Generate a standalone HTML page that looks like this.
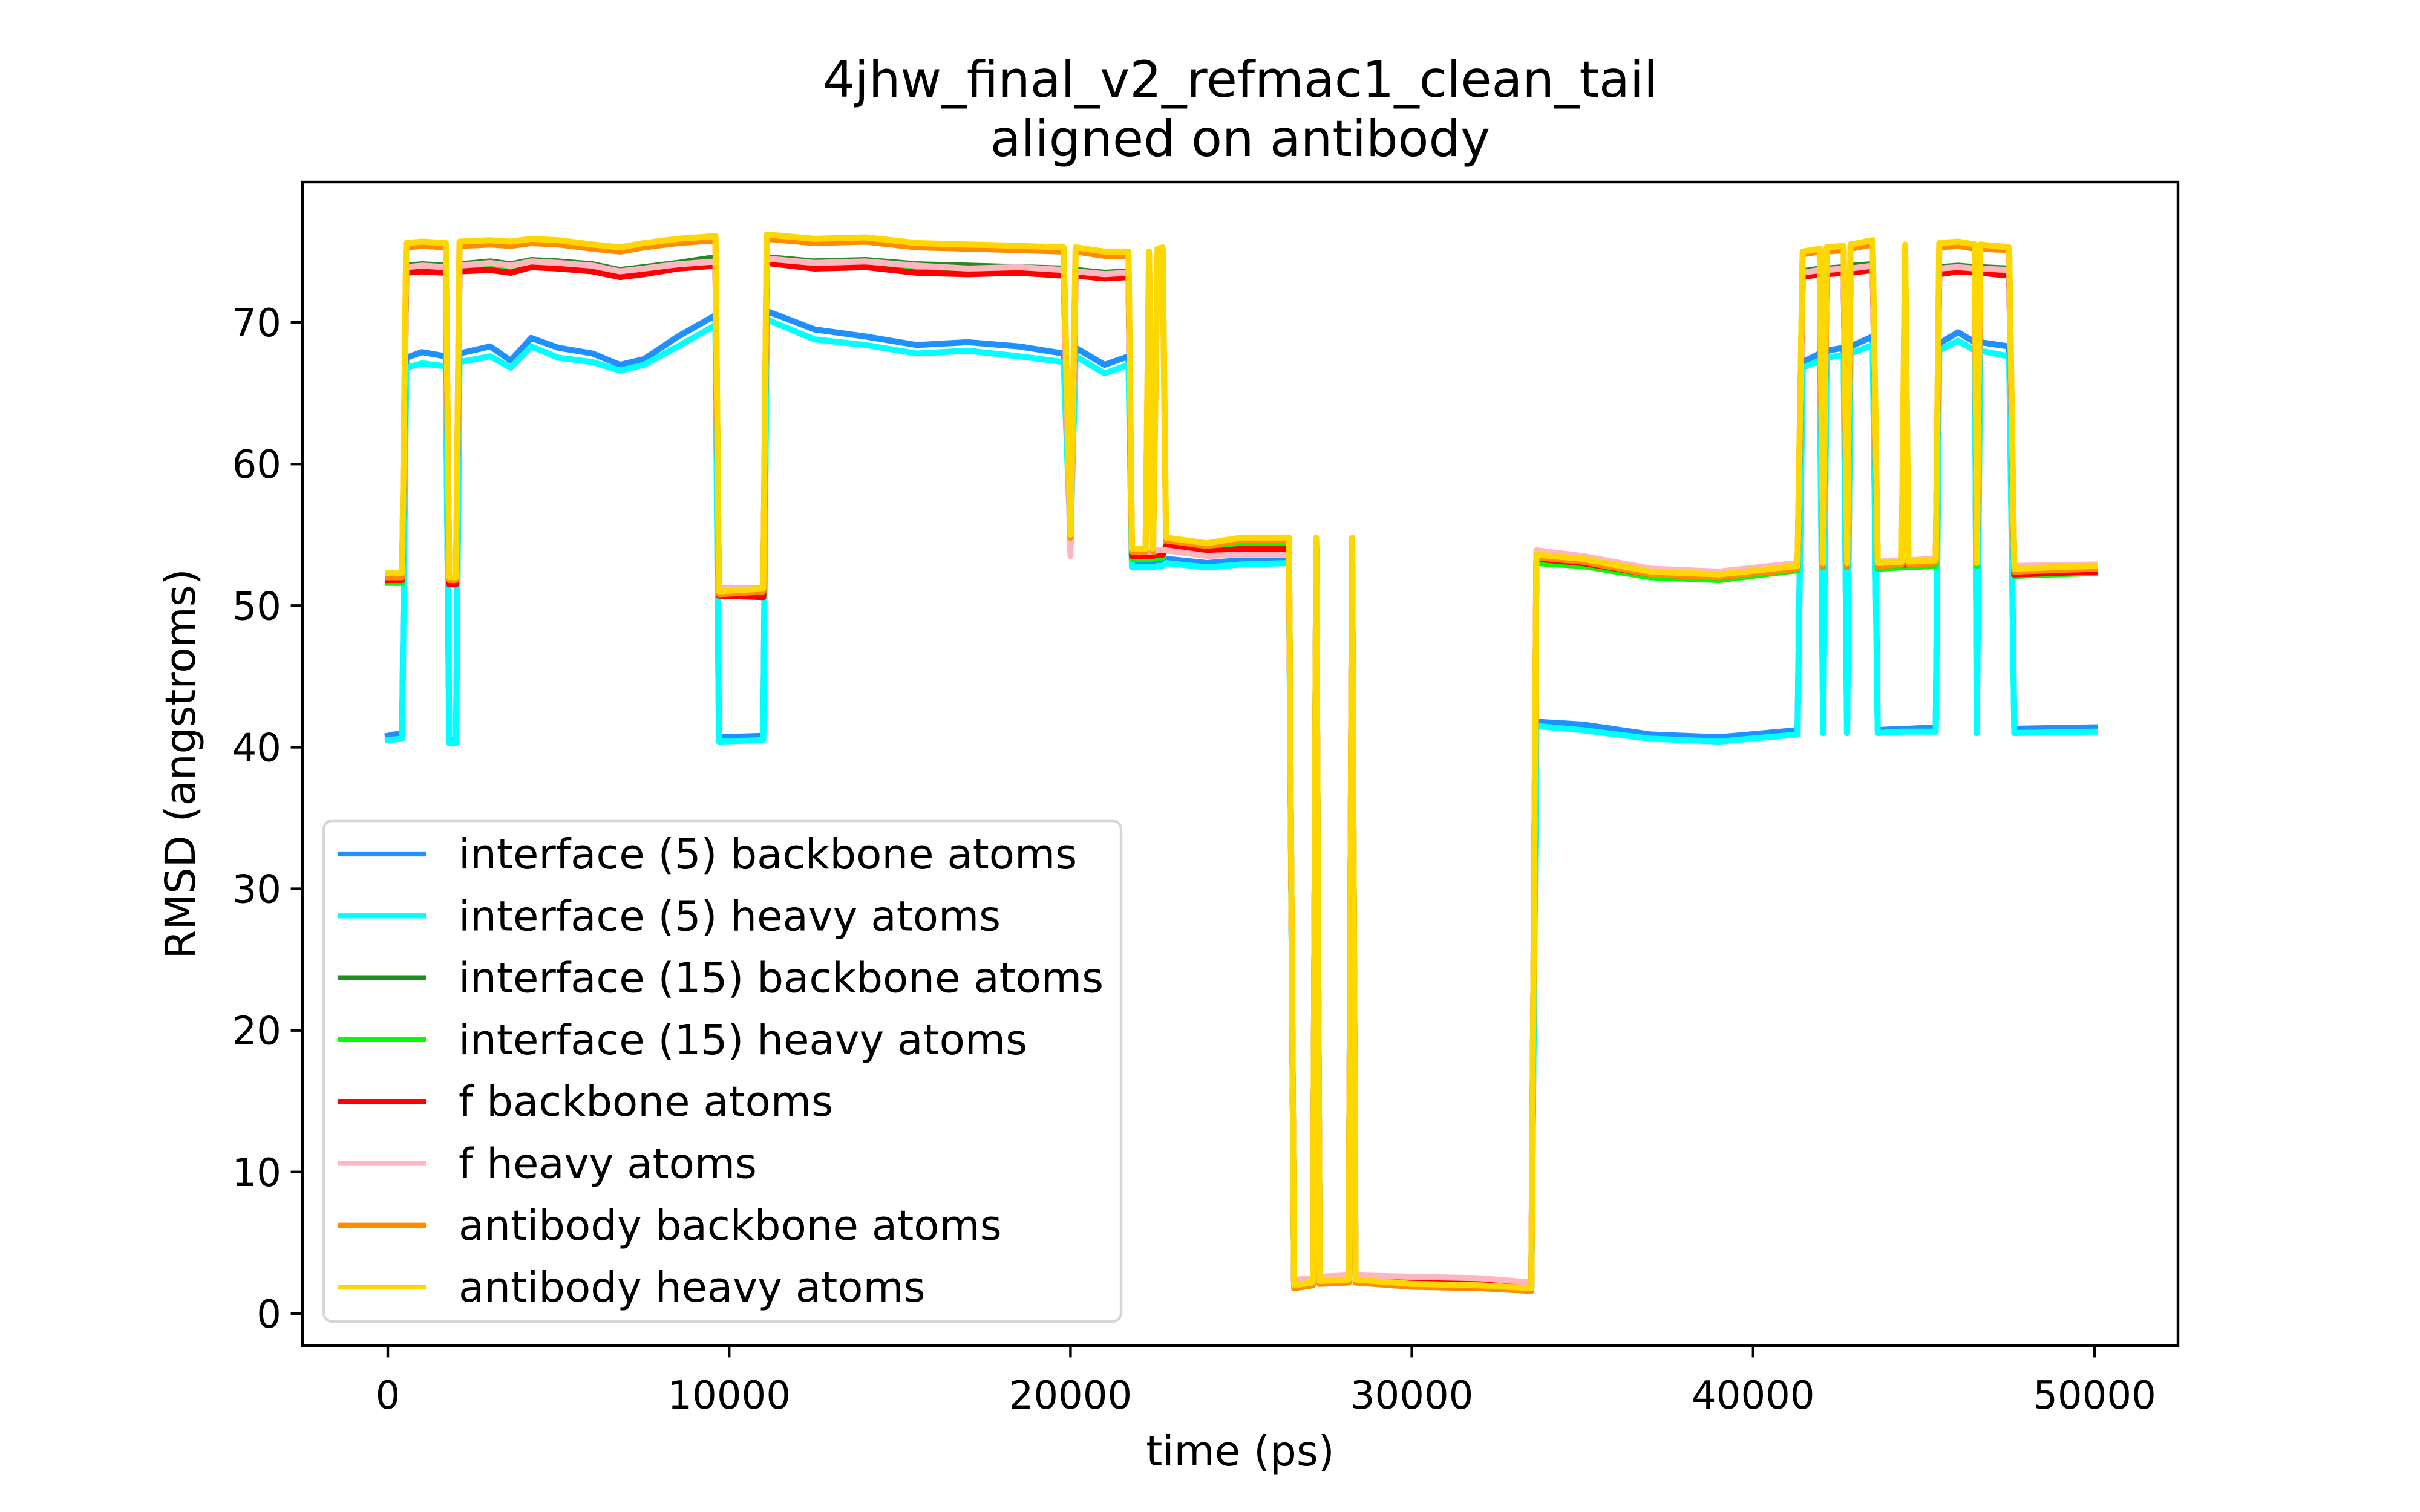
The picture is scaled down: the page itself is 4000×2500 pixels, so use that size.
<!DOCTYPE html>
<html><head><meta charset="utf-8"><style>
html,body{margin:0;padding:0;background:#fff;}
svg{display:block;font-family:"DejaVu Sans","Liberation Sans",sans-serif;}
</style></head><body>
<svg id="chart" width="4000" height="2500" viewBox="0 0 4000 2500" xmlns="http://www.w3.org/2000/svg">
<rect width="4000" height="2500" fill="#fff"/>
<text x="2050" y="160" font-size="83" text-anchor="middle">4jhw_final_v2_refmac1_clean_tail</text>
<text x="2050" y="258" font-size="83" text-anchor="middle">aligned on antibody</text>
<g id="series"></g>
<g id="axes"></g>
<text x="2050" y="2423" font-size="69" text-anchor="middle">time (ps)</text>
<text transform="translate(322,1263) rotate(-90)" font-size="69" text-anchor="middle">RMSD (angstroms)</text>
<g id="legend"></g>
</svg>
<script>
const timePs = [0,420,540,1000,1700,1800,2000,2100,3000,3600,4200,5000,6000,6800,7500,8500,9600,9700,11000,11100,12500,14000,15500,17000,18500,19800,20000,20150,21000,21700,21800,22200,22300,22420,22550,22700,22800,24000,25000,26400,26550,27100,27200,27300,28150,28250,28350,30000,32000,33500,33650,35000,37000,39000,41300,41450,41950,42050,42150,42650,42750,42850,43500,43650,44350,44450,44550,45350,45450,46000,46500,46550,46650,47500,47650,50000];
const iface5Backbone = [40.8,41.0,67.5,67.9,67.6,40.5,40.5,67.8,68.3,67.3,68.9,68.2,67.8,67.0,67.4,69.0,70.5,40.7,40.8,70.8,69.5,69.0,68.4,68.6,68.3,67.8,55.0,68.2,67.0,67.6,53.0,53.0,53.0,53.0,53.1,53.1,53.3,53.0,53.2,53.3,2.0,2.2,54.0,2.3,2.4,54.0,2.4,2.1,2.0,1.8,41.8,41.6,40.9,40.7,41.2,67.2,67.8,41.0,68.0,68.2,41.0,68.3,69.0,41.2,41.3,41.3,41.3,41.4,68.5,69.3,68.6,41.0,68.6,68.3,41.3,41.4];
const iface5Heavy = [40.5,40.6,66.8,67.1,66.9,40.3,40.3,67.2,67.6,66.8,68.3,67.5,67.2,66.6,67.0,68.3,69.8,40.4,40.5,70.2,68.8,68.4,67.8,68.0,67.6,67.2,54.6,67.6,66.4,67.0,52.7,52.7,52.7,52.7,52.8,52.8,53.0,52.7,52.9,53.0,1.9,2.0,53.8,2.1,2.2,53.8,2.2,2.0,1.9,1.7,41.5,41.2,40.6,40.4,40.9,66.8,67.3,41.0,67.5,67.7,41.0,67.8,68.4,41.0,41.1,41.1,41.1,41.1,68.0,68.7,68.0,41.0,68.0,67.6,41.0,41.1];
const iface15Backbone = [51.8,51.8,74.0,74.1,74.0,52.0,52.0,74.1,74.3,74.1,74.4,74.3,74.1,73.7,73.9,74.2,74.6,51.2,51.2,74.6,74.3,74.4,74.1,74.0,73.9,73.8,54.0,73.7,73.5,73.6,53.6,53.6,53.6,53.6,53.7,53.7,54.0,53.7,53.8,53.9,2.2,2.3,54.2,2.4,2.5,54.2,2.5,2.3,2.2,2.0,53.2,53.0,52.3,52.1,52.7,73.6,73.8,52.9,73.8,73.9,52.9,74.0,74.1,52.8,52.9,52.9,52.9,53.0,73.9,74.0,73.9,53.0,73.9,73.8,52.3,52.5];
const iface15Heavy = [51.6,51.6,73.8,73.9,73.8,51.7,51.7,73.9,74.1,73.9,74.2,74.1,73.9,73.5,73.7,74.0,74.3,50.9,51.0,74.4,74.1,74.2,73.9,73.8,73.8,73.6,54.2,73.6,73.4,73.5,53.3,53.3,53.3,53.3,53.4,53.4,54.3,54.0,54.2,54.2,2.1,2.2,54.0,2.3,2.4,54.0,2.4,2.2,2.1,1.9,53.0,52.8,52.0,51.8,52.5,73.5,73.6,52.7,73.6,73.7,52.7,73.8,73.9,52.6,52.7,52.7,52.7,52.8,73.7,73.8,73.7,52.8,73.7,73.6,52.1,52.3];
const fBackbone = [51.8,51.8,73.5,73.6,73.5,51.5,51.5,73.6,73.7,73.5,73.9,73.8,73.6,73.2,73.4,73.8,74.0,50.7,50.6,74.2,73.8,73.9,73.5,73.4,73.5,73.3,54.0,73.3,73.1,73.2,53.5,53.5,53.5,53.5,53.6,53.6,54.2,53.8,54.0,54.0,2.0,2.1,54.0,2.2,2.3,54.0,2.3,2.2,2.1,1.9,53.3,53.0,52.2,52.0,52.6,73.2,73.4,52.8,73.4,73.5,52.8,73.5,73.7,52.8,52.9,52.9,52.9,53.0,73.4,73.6,73.5,53.0,73.5,73.3,52.2,52.4];
const fHeavy = [52.2,52.2,73.9,74.0,73.9,52.0,52.0,74.0,74.2,74.0,74.3,74.2,74.0,73.6,73.8,74.1,74.3,51.2,51.2,74.5,74.2,74.3,74.0,73.8,73.9,73.7,53.5,73.6,73.4,73.5,53.8,53.8,53.8,53.8,53.9,53.9,53.9,53.5,53.6,53.6,2.4,2.5,54.3,2.6,2.7,54.3,2.7,2.6,2.5,2.2,53.9,53.5,52.6,52.4,53.0,73.5,73.7,53.1,73.7,73.8,53.1,73.8,74.0,53.1,53.2,53.2,53.2,53.3,73.8,73.9,73.8,53.3,73.8,73.7,52.8,52.9];
const abBackbone = [52.0,52.0,75.3,75.4,75.3,51.8,51.8,75.4,75.5,75.4,75.6,75.5,75.2,75.0,75.3,75.6,75.8,50.8,51.0,75.9,75.6,75.7,75.3,75.2,75.1,75.0,54.8,75.0,74.7,74.7,53.8,53.8,74.7,53.8,74.9,75.0,54.6,54.2,54.6,54.6,1.8,2.0,54.6,2.1,2.2,54.6,2.2,1.9,1.8,1.6,53.4,53.1,52.2,52.0,52.6,74.8,75.0,52.8,75.0,75.1,52.8,75.2,75.5,52.8,52.9,75.2,52.9,53.0,75.3,75.4,75.2,53.0,75.2,75.1,52.4,52.6];
const abHeavy = [52.3,52.3,75.6,75.7,75.6,52.0,52.0,75.7,75.8,75.7,75.9,75.8,75.5,75.3,75.6,75.9,76.1,51.0,51.2,76.2,75.9,76.0,75.6,75.5,75.4,75.3,55.0,75.3,75.0,75.0,54.0,54.0,75.0,54.0,75.2,75.3,54.8,54.4,54.8,54.8,2.0,2.2,54.8,2.3,2.4,54.8,2.4,2.1,2.0,1.8,53.6,53.3,52.4,52.2,52.8,75.0,75.2,53.0,75.3,75.4,53.0,75.5,75.8,53.0,53.1,75.5,53.1,53.2,75.6,75.7,75.5,53.0,75.5,75.3,52.6,52.8];
const seriesLabels = ["interface (5) backbone atoms","interface (5) heavy atoms","interface (15) backbone atoms","interface (15) heavy atoms","f backbone atoms","f heavy atoms","antibody backbone atoms","antibody heavy atoms"];
const xTicks = [0,10000,20000,30000,40000,50000];
const yTicks = [0,10,20,30,40,50,60,70];

const NS = "http://www.w3.org/2000/svg";
const seriesData = [iface5Backbone,iface5Heavy,iface15Backbone,iface15Heavy,fBackbone,fHeavy,abBackbone,abHeavy];
const colors = ["#1e90ff","#00ffff","#228b22","#00ff00","#ff0000","#ffb6c1","#ff8c00","#ffd700"];
const names = ["iface5-backbone","iface5-heavy","iface15-backbone","iface15-heavy","f-backbone","f-heavy","antibody-backbone","antibody-heavy"];
const PL=500, PR=3600, PT=301, PB=2225;
function xScale(t){ return 641 + (t/50000)*(3462-641); }
function yScale(v){ return 2172 - v*(2172-533)/70; }
function mk(tag, attrs, parent){ const e=document.createElementNS(NS,tag); for(const k in attrs) e.setAttribute(k,attrs[k]); parent.appendChild(e); return e; }

const sg = document.getElementById('series');
const clip = mk('clipPath',{id:'plotclip'},document.getElementById('chart'));
mk('rect',{x:PL,y:PT,width:PR-PL,height:PB-PT},clip);
sg.setAttribute('clip-path','url(#plotclip)');
seriesData.forEach((arr,i)=>{
  const n=Math.min(arr.length,timePs.length);
  const pts=[];
  for(let j=0;j<n;j++) pts.push(xScale(timePs[j]).toFixed(1)+","+yScale(arr[j]).toFixed(1));
  const pl=mk('polyline',{points:pts.join(" "),fill:"none",stroke:colors[i],"stroke-width":10,"stroke-linejoin":"round","stroke-linecap":"square"},sg);
  
  
});

const ax = document.getElementById('axes');
const frame = mk('rect',{x:PL,y:PT,width:PR-PL,height:PB-PT,fill:"none",stroke:"#000","stroke-width":4.4},ax);


xTicks.forEach(t=>{
  const x=xScale(t);
  const tk=mk('line',{x1:x,x2:x,y1:PB,y2:PB+19.4,stroke:"#000","stroke-width":4.4},ax);
  
  
  const lb=mk('text',{x:x,y:PB+104,"font-size":64,"text-anchor":"middle"},ax);
  lb.textContent=String(t);
  
  
});
yTicks.forEach(v=>{
  const y=yScale(v);
  const tk=mk('line',{x1:PL-19.4,x2:PL,y1:y,y2:y,stroke:"#000","stroke-width":4.4},ax);
  
  
  const lb=mk('text',{x:PL-35,y:y+23,"font-size":64,"text-anchor":"end"},ax);
  lb.textContent=String(v);
  
  
});

const lg = document.getElementById('legend');
const box = mk('rect',{x:535,y:1357,width:1318,height:828,rx:14,fill:"#fff","fill-opacity":0.8,stroke:"#d6d6d6","stroke-width":4.4},lg);


seriesLabels.forEach((s,i)=>{
  const y=1412+i*102.3;
  const g=mk('g',{},lg);
  
  
  const ln=mk('line',{x1:558,x2:704,y1:y,y2:y,stroke:colors[i],"stroke-width":8.3},g);
  
  
  const tx=mk('text',{x:758,y:y+24,"font-size":69},g);
  tx.textContent=s;
  
  
});
</script>
</body></html>
